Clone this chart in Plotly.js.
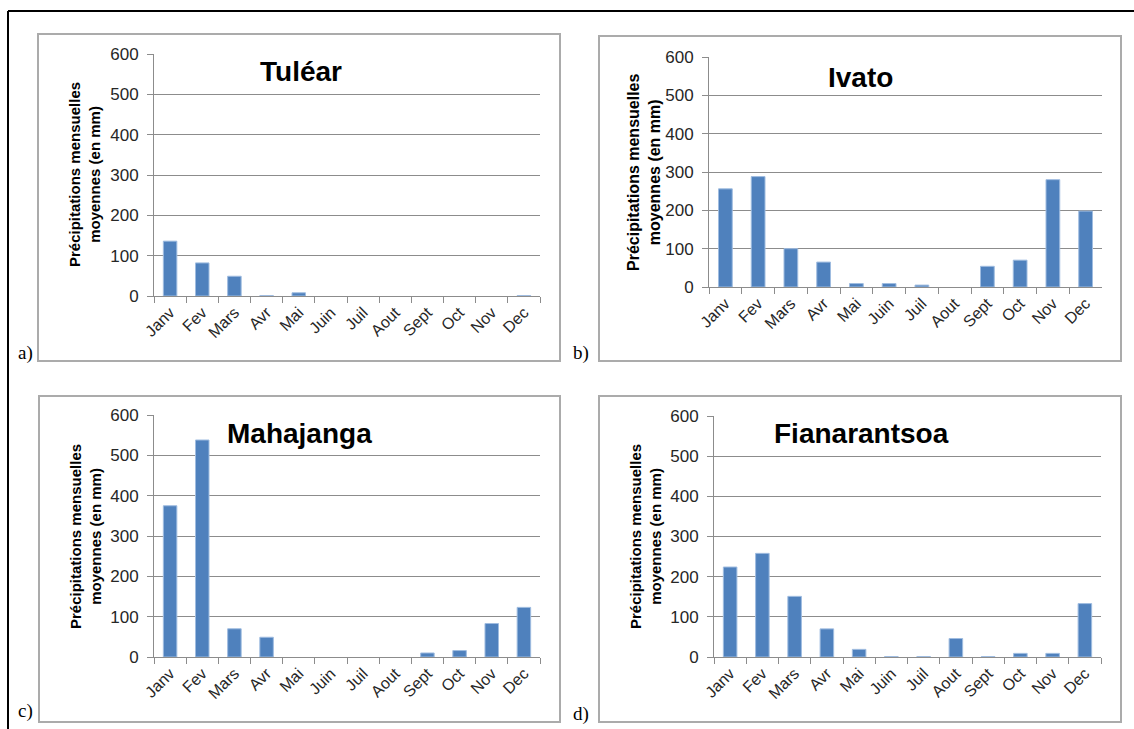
<!DOCTYPE html>
<html>
<head>
<meta charset="utf-8">
<script src="https://cdn.plot.ly/plotly-3.0.1.min.js"></script>
<style>
html,body{margin:0;padding:0;background:#fff;}
#chart{width:1134px;height:729px;}
</style>
</head>
<body>
<div id="chart"></div>
<script>
// ---- data ----
const months = ['Janv','Fev','Mars','Avr','Mai','Juin','Juil','Aout','Sept','Oct','Nov','Dec'];
const tulear = [136, 82, 49, 1, 8, 0, 0, 0, 0, 0, 0, 1];
const ivato = [256, 288, 100, 65, 9, 9, 5, 0, 54, 70, 280, 198];
const mahajanga = [375, 538, 70, 49, 0, 0, 0, 0, 10, 16, 83, 123];
const fianarantsoa = [224, 258, 151, 70, 19, 1, 1, 46, 1, 9, 9, 133];
const stations = ['Tuléar', 'Ivato', 'Mahajanga', 'Fianarantsoa'];
const panelLetters = ['a)', 'b)', 'c)', 'd)'];
const yTitle = 'Précipitations mensuelles<br>moyennes (en mm)';
const yTicks = [0, 100, 200, 300, 400, 500, 600];

// ---- layout helpers (pixel -> paper) ----
const W = 1134, H = 729;
const px = x => x / W;
const py = y => 1 - y / H;

// plot areas in pixels: [left, right, top, bottom]
const areas = [
  [154, 540, 54, 296],
  [709, 1102, 57, 287],
  [154, 540, 415, 657],
  [714, 1101, 416, 657]
];
// chart boxes in pixels
const boxes = [
  [38, 560, 34, 361],
  [599, 1121, 36, 361],
  [39, 560, 396, 722],
  [599, 1121, 396, 722]
];
const titlePos = [[301, 71], [860, 78], [299, 433], [861, 433]];
const yTitlePos = [[84, 175], [644, 172], [85, 537], [645, 537]];
const letterPos = [[25, 353], [581, 353], [25, 711], [581, 714]];

const series = [tulear, ivato, mahajanga, fianarantsoa];
const FONT = 'Liberation Sans, Arial, sans-serif';
const GRID = '#8c8c8c';

const data = series.map((vals, i) => ({
  type: 'bar',
  x: months,
  y: vals,
  xaxis: i === 0 ? 'x' : 'x' + (i + 1),
  yaxis: i === 0 ? 'y' : 'y' + (i + 1),
  marker: {color: '#4F81BD', line: {color: '#9FBCE0', width: vals.map(v => v > 0 ? 1 : 0)}},
  hoverinfo: 'x+y',
  showlegend: false
}));

const layout = {
  width: W, height: H,
  margin: {l: 0, r: 0, t: 0, b: 0},
  paper_bgcolor: '#fff',
  plot_bgcolor: '#fff',
  font: {family: FONT, color: '#262626'},
  bargap: 0.58,
  annotations: [],
  shapes: []
};

areas.forEach((a, i) => {
  const sfx = i === 0 ? '' : String(i + 1);
  layout['xaxis' + sfx] = {
    domain: [px(a[0]), px(a[1])],
    anchor: 'y' + sfx,
    type: 'category',
    range: [-0.5, 11.5],
    tickson: 'boundaries',
    ticks: 'outside', ticklen: 6, tickcolor: GRID, tickwidth: 1,
    showline: true, linecolor: GRID, linewidth: 1,
    showgrid: false,
    tickangle: -45,
    tickfont: {size: 16, family: FONT, color: '#262626'},
    fixedrange: true
  };
  layout['yaxis' + sfx] = {
    domain: [py(a[3]), py(a[2])],
    anchor: 'x' + sfx,
    range: [0, 600],
    tickvals: yTicks,
    ticks: 'outside', ticklen: 6, tickcolor: GRID, tickwidth: 1,
    showline: true, linecolor: GRID, linewidth: 1,
    showgrid: true, gridcolor: GRID, gridwidth: 1,
    zeroline: false,
    ticklabelstandoff: 5,
    tickfont: {size: 17, family: FONT, color: '#262626'},
    fixedrange: true
  };
  // chart box
  const b = boxes[i];
  layout.shapes.push({
    type: 'rect', xref: 'paper', yref: 'paper',
    x0: px(b[0]), x1: px(b[1]), y0: py(b[3]), y1: py(b[2]),
    line: {color: '#ababab', width: 2}, fillcolor: 'rgba(0,0,0,0)', layer: 'below'
  });
  // station title
  layout.annotations.push({
    xref: 'paper', yref: 'paper', x: px(titlePos[i][0]), y: py(titlePos[i][1]),
    xanchor: 'center', yanchor: 'middle', showarrow: false,
    text: '<b>' + stations[i] + '</b>',
    font: {size: 28, family: FONT, color: '#000'}
  });
  // y-axis title
  layout.annotations.push({
    xref: 'paper', yref: 'paper', x: px(yTitlePos[i][0]), y: py(yTitlePos[i][1]),
    xanchor: 'center', yanchor: 'middle', showarrow: false, textangle: -90,
    text: '<b>' + yTitle + '</b>',
    font: {size: i === 1 ? 16 : 15, family: FONT, color: '#000'}
  });
  // panel letter
  layout.annotations.push({
    xref: 'paper', yref: 'paper', x: px(letterPos[i][0]), y: py(letterPos[i][1]),
    xanchor: 'center', yanchor: 'middle', showarrow: false,
    text: panelLetters[i],
    font: {size: 19, family: 'Liberation Serif, Times New Roman, serif', color: '#000'}
  });
});

// outer frame lines (top and left)
layout.shapes.push({type: 'line', xref: 'paper', yref: 'paper',
  x0: px(8), x1: 1, y0: py(11), y1: py(11), line: {color: '#000', width: 2}});
layout.shapes.push({type: 'line', xref: 'paper', yref: 'paper',
  x0: px(8), x1: px(8), y0: py(11), y1: 0, line: {color: '#000', width: 2}});

Plotly.newPlot('chart', data, layout, {displayModeBar: false, staticPlot: true});
</script>
</body>
</html>
